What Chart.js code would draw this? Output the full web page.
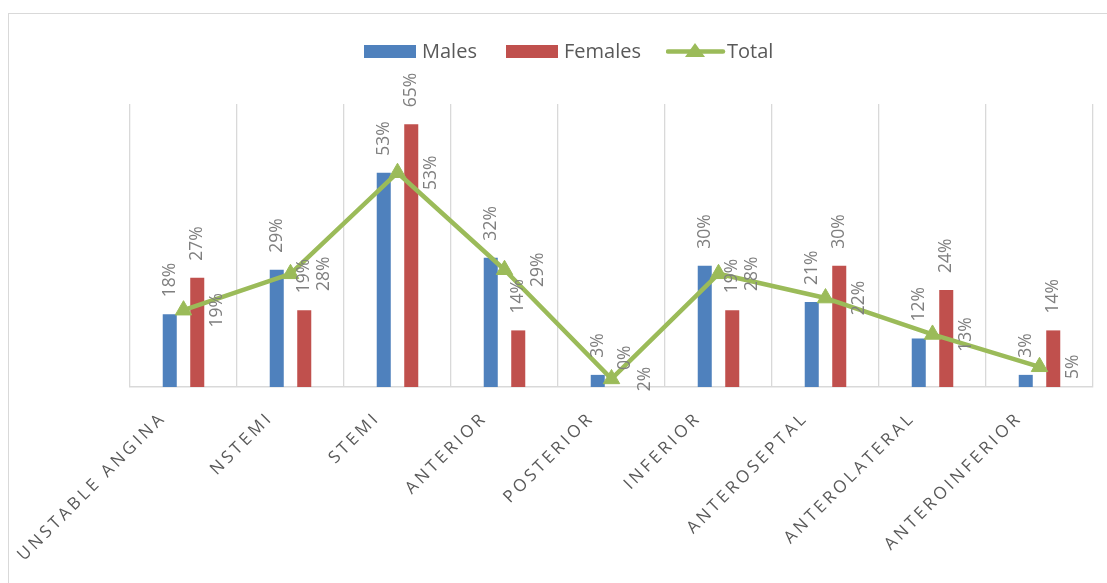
<!DOCTYPE html>
<html>
<head>
<meta charset="utf-8">
<script src="https://cdn.jsdelivr.net/npm/chart.js@4.4.1/dist/chart.umd.min.js"></script>
<style>
  html, body { margin: 0; padding: 0; background: #ffffff; overflow: hidden; }
  #wrap { position: relative; width: 1107px; height: 583px; overflow: hidden; }
  #frame { position: absolute; left: 8px; top: 13px; width: 1200px; height: 700px;
           border: 1.5px solid #d9d9d9; box-sizing: border-box; }
  #chart { position: absolute; left: 0; top: 0; }
  .legend { position: absolute; top: 37px; height: 28px; font-family: "Open Sans", sans-serif;
            font-size: 20px; color: #595959; line-height: 28px; white-space: nowrap; }
  .swatch { position: absolute; top: 45px; width: 52px; height: 13px; }
</style>
</head>
<body>
<div id="wrap">
  <div id="frame"></div>
  <canvas id="chart" width="1107" height="583"></canvas>
  <div class="swatch" style="left:364px;background:#4f81bd"></div>
  <div class="legend" style="left:422px">Males</div>
  <div class="swatch" style="left:506px;background:#c0504d"></div>
  <div class="legend" style="left:564px">Females</div>
  <svg style="position:absolute;left:666px;top:40px" width="60" height="20">
    <line x1="2" y1="11.5" x2="57" y2="11.5" stroke="#9bbb59" stroke-width="4.5" stroke-linecap="round"/>
    <polygon points="19,17 39,17 29,3" fill="#9bbb59"/>
  </svg>
  <div class="legend" style="left:727px">Total</div>
</div>
<script>
// Categories and percentages per group
const categories = ["UNSTABLE ANGINA", "NSTEMI", "STEMI", "ANTERIOR", "POSTERIOR",
                    "INFERIOR", "ANTEROSEPTAL", "ANTEROLATERAL", "ANTEROINFERIOR"];
const males   = [18, 29, 53, 32, 3, 30, 21, 12, 3];
const females = [27, 19, 65, 14, 0, 19, 30, 24, 14];
const total   = [19, 28, 53, 29, 2, 28, 22, 13, 5];

const LABEL_FONT = '17.5px "Open Sans", sans-serif';
const LABEL_COLOR = '#7f7f7f';
const TICK_SPACING = '3.3px';

// Spaced-out category labels: letter spacing applied to the chart context
const letterSpacingPlugin = {
  id: 'letterSpacing',
  beforeUpdate(chart) { chart.ctx.letterSpacing = TICK_SPACING; },
  beforeDraw(chart) { chart.ctx.letterSpacing = TICK_SPACING; }
};

// Vertical value labels: above bars, to the right of line points
const valueLabels = {
  id: 'valueLabels',
  afterDatasetsDraw(chart) {
    const ctx = chart.ctx;
    ctx.save();
    ctx.letterSpacing = '0px';
    ctx.font = LABEL_FONT;
    ctx.fillStyle = LABEL_COLOR;
    chart.data.datasets.forEach((ds, di) => {
      const meta = chart.getDatasetMeta(di);
      meta.data.forEach((el, i) => {
        const text = ds.data[i] + '%';
        ctx.save();
        if (ds.type === 'line') {
          ctx.translate(el.x + 33.5, el.y);
          ctx.rotate(-Math.PI / 2);
          ctx.textAlign = 'center';
        } else {
          ctx.translate(el.x, el.y - 17);
          ctx.rotate(-Math.PI / 2);
          ctx.textAlign = 'left';
        }
        ctx.textBaseline = 'middle';
        ctx.fillText(text, 0, 0);
        ctx.restore();
      });
    });
    ctx.restore();
  }
};

new Chart(document.getElementById('chart'), {
  data: {
    labels: categories,
    datasets: [
      { type: 'bar', label: 'Males', data: males, backgroundColor: '#4f81bd',
        categoryPercentage: 0.514, barPercentage: 0.51, order: 1 },
      { type: 'bar', label: 'Females', data: females, backgroundColor: '#c0504d',
        categoryPercentage: 0.514, barPercentage: 0.51, order: 1 },
      { type: 'line', label: 'Total', data: total, borderColor: '#9bbb59',
        backgroundColor: '#9bbb59', borderWidth: 4.5, tension: 0,
        borderJoinStyle: 'round', borderCapStyle: 'round',
        pointStyle: 'triangle', pointRadius: 9.5, pointBorderWidth: 1,
        pointBackgroundColor: '#9bbb59', pointBorderColor: '#9bbb59', order: 0 }
    ]
  },
  options: {
    responsive: false,
    animation: false,
    events: [],
    layout: { padding: { left: 130, right: 14, top: 104, bottom: 0 } },
    plugins: { legend: { display: false }, tooltip: { enabled: false } },
    scales: {
      x: {
        grid: { display: true, offset: true, color: '#d9d9d9', lineWidth: 1.3, drawTicks: false },
        border: { display: true, color: '#d9d9d9', width: 1.5 },
        ticks: {
          color: '#595959',
          font: { family: '"Open Sans", sans-serif', size: 17 },
          minRotation: 45, maxRotation: 45,
          padding: 21, labelOffset: -20, autoSkip: false
        },
        afterFit(scale) {
          scale.height = 196;
          scale.paddingLeft = 0;
          scale.paddingRight = 0;
        }
      },
      y: { display: false, min: 0, max: 70 }
    }
  },
  plugins: [letterSpacingPlugin, valueLabels]
});
</script>
</body>
</html>
